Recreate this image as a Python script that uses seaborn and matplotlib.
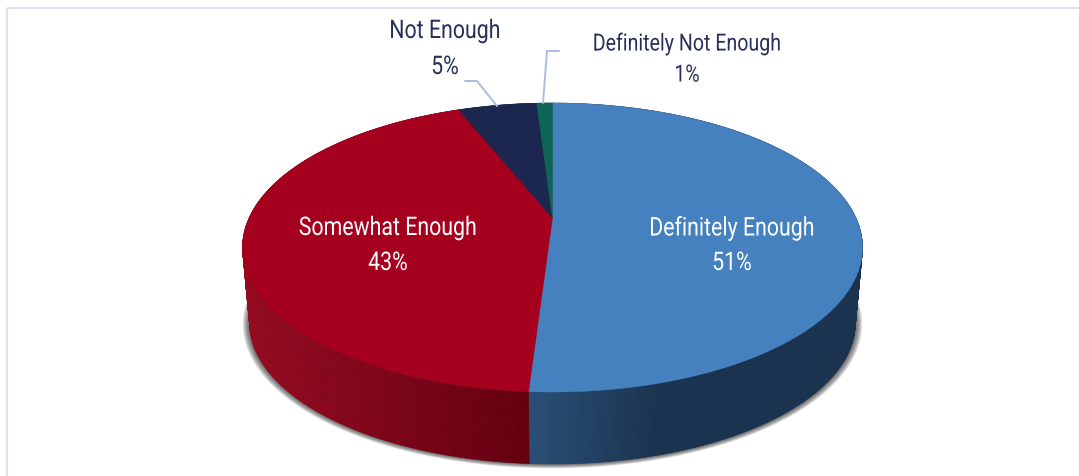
import numpy as np
import matplotlib
matplotlib.use("Agg")
import matplotlib.pyplot as plt
from matplotlib.colors import to_rgb
from matplotlib.patheffects import AbstractPathEffect
from matplotlib.transforms import Affine2D
import seaborn as sns

categories = ["Definitely Enough", "Somewhat Enough", "Not Enough", "Definitely Not Enough"]
values = [51, 43, 5, 1]
top_colors = ["#4581BE", "#A5001E", "#1C274F", "#0F6458"]
side_light = ["#2A4F76", "#960A20", "#1C274F", "#0F6458"]
side_dark = ["#1A3350", "#640010", "#141C3A", "#0A463E"]

sns.set_theme(style="white")
plt.rcParams["font.family"] = ["Roboto", "DejaVu Sans"]
palette = sns.color_palette(top_colors)

W, H = 1079, 476
fig = plt.figure(figsize=(W / 100, H / 100), dpi=100)
ax = fig.add_axes([0, 0, 1, 1])
ax.set_xlim(0, W)
ax.set_ylim(H, 0)
ax.axis("off")


class Condense(AbstractPathEffect):
    """Draws a text narrower about a vertical line, giving a condensed face."""

    def __init__(self, sx, cx):
        super().__init__()
        self.sx, self.cx = sx, cx

    def draw_path(self, renderer, gc, tpath, affine, rgbFace=None):
        squeeze = Affine2D().translate(-self.cx, 0).scale(self.sx, 1).translate(self.cx, 0)
        renderer.draw_path(gc, tpath, affine + squeeze, rgbFace)


# Perspective projection of the round pie onto the page
CX, APEX_Y, TOP_EDGE, FRONT_EDGE, BOTTOM_FRONT = 552.5, 218.0, 103.0, 392.0, 464.0
up, down = APEX_Y - TOP_EDGE, FRONT_EDGE - APEX_Y
k = (down - up) / (down + up)
B = up * (1 + k)
A = 310.0 * np.sqrt(1 - k * k)
BASE_SCALE = 0.977
BASE_APEX_Y = BOTTOM_FRONT - down * BASE_SCALE


def project(theta, scale=1.0, apex=APEX_Y):
    u, v = np.sin(theta), np.cos(theta)
    w = 1 + k * v
    return CX + scale * A * u / w, apex - scale * B * v / w


shares = np.array(values, dtype=float) / np.sum(values)
edges = np.concatenate([[0.0], np.cumsum(shares)]) * 2 * np.pi

# Soft shadow beneath the base
t = np.linspace(0, 2 * np.pi, 400)
for grow in np.linspace(7, 0, 12):
    sx, sy = project(t, scale=BASE_SCALE, apex=BASE_APEX_Y)
    pivot = BASE_APEX_Y - 30
    sx = CX + (sx - CX) * (1 + grow / 303)
    sy = pivot + (sy - pivot) * (1 + grow * 0.55 / 175)
    ax.fill(sx, sy, color="#202020", alpha=0.085, lw=0, zorder=1)

# Side wall, shaded along its width
for i, (a0, a1) in enumerate(zip(edges[:-1], edges[1:])):
    n = max(int((a1 - a0) / (2 * np.pi) * 720), 2)
    ts = np.linspace(a0, a1, n + 1)
    light, dark = np.array(to_rgb(side_light[i])), np.array(to_rgb(side_dark[i]))
    for t0, t1 in zip(ts[:-1], ts[1:]):
        x0, y0 = project(t0)
        x1, y1 = project(t1)
        x2, y2 = project(t1, scale=BASE_SCALE, apex=BASE_APEX_Y)
        x3, y3 = project(t0, scale=BASE_SCALE, apex=BASE_APEX_Y)
        xm = (x0 + x1) / 2
        if i == 0:
            f = np.clip((xm - 529) / 130, 0, 1)
            col = light + (dark - light) * f
        elif i == 1:
            f = np.clip((xm - 245) / (529 - 245), 0, 1)
            col = light + (dark - light) * f
        else:
            col = dark
        ax.fill([x0, x1, x2, x3], [y0, y1, y2, y3], color=col, lw=0.4, ec=col, zorder=2)

# Top face
for i, (a0, a1) in enumerate(zip(edges[:-1], edges[1:])):
    ts = np.linspace(a0, a1, max(int((a1 - a0) * 120), 6))
    x, y = project(ts)
    ax.fill(np.r_[CX, x], np.r_[APEX_Y, y], color=palette[i], lw=0.3, ec=palette[i], zorder=3)

# Leader lines
LEADER = "#A9BDE3"
ax.plot([497, 477, 465], [106, 81, 81], color=LEADER, lw=1.4, zorder=4)
ax.plot([543, 547, 559], [103, 51, 51], color=LEADER, lw=1.4, zorder=4)

# Labels
DARK = "#26305A"
label_pos = [(732, 228, 263, "white", 18.5), (388, 228, 263, "white", 18.5),
             (445, 31, 67, DARK, 18.5), (687, 44, 75, DARK, 17)]
for name, val, (lx, y1, y2, col, fs) in zip(categories, values, label_pos):
    effect = [Condense(0.83, lx)]
    ax.text(lx, y1, name, color=col, fontsize=fs, ha="center", va="center", zorder=5,
            path_effects=effect)
    ax.text(lx, y2, f"{val}%", color=col, fontsize=fs, ha="center", va="center", zorder=5,
            path_effects=effect)

# Frame on the top and left
ax.plot([7, W], [8, 8], color="#DAE2F3", lw=1.6, zorder=0, solid_capstyle="butt")
ax.plot([7, 7], [8, H], color="#DAE2F3", lw=1.6, zorder=0, solid_capstyle="butt")

fig.savefig("out.png", dpi=100, facecolor="white")
